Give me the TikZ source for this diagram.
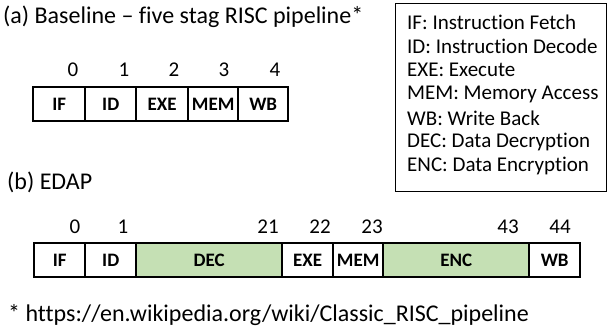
\documentclass[tikz,border=0pt]{standalone}
\usepackage{fontspec}
\setmainfont{Carlito}[Ligatures=NoCommon]
\definecolor{stagegreen}{HTML}{C5E0B4}
\begin{document}
\begin{tikzpicture}[x=1pt,y=-1pt,
  cell/.style={draw, line width=2.4pt, minimum height=34pt, inner sep=0pt, anchor=north west, font=\bfseries\fontsize{19}{19}\selectfont},
  gcell/.style={cell, fill=stagegreen},
  num/.style={inner sep=0pt, font=\fontsize{21}{21}\selectfont},
  big/.style={inner sep=0pt, anchor=west, font=\fontsize{24}{24}\selectfont},
  leg/.style={inner sep=0pt, anchor=west, font=\fontsize{21}{21}\selectfont},
]
\useasboundingbox (0,0) rectangle (607,331);
% title (a)
\node[big] (ta) at (3,17) {(a) Baseline -- five stag RISC pipeline*};
% top pipeline
\node[cell, minimum width=52pt] (aIF)  at (32,86)  {IF};
\node[cell, minimum width=51pt] (aID)  at (84,86)  {ID};
\node[cell, minimum width=52pt] (aEXE) at (135,86) {EXE};
\node[cell, minimum width=50pt] (aMEM) at (187,86) {MEM};
\node[cell, minimum width=50pt] (aWB)  at (237,86) {WB};
\node[num] (n0) at (73,70) {0};
\node[num] (n1) at (124,70) {1};
\node[num] (n2) at (174,70) {2};
\node[num] (n3) at (224,70) {3};
\node[num] (n4) at (275,70) {4};
% legend
\node[draw, line width=1.2pt, minimum width=211pt, minimum height=188pt, anchor=north west, inner sep=0pt] (legend) at (395,3) {};
\node[leg] (l1) at (407,22)  {IF: Instruction Fetch};
\node[leg] (l2) at (407,46)  {ID: Instruction Decode};
\node[leg] (l3) at (407,70)  {EXE: Execute};
\node[leg] (l4) at (407,94)  {MEM: Memory Access};
\node[leg] (l5) at (407,118) {WB: Write Back};
\node[leg] (l6) at (407,142) {DEC: Data Decryption};
\node[leg] (l7) at (407,166) {ENC: Data Encryption};
% title (b)
\node[big] (tb) at (7,182) {(b) EDAP};
% bottom pipeline
\node[cell, minimum width=51pt]  (bIF)  at (33,242)  {IF};
\node[cell, minimum width=51pt]  (bID)  at (84,242)  {ID};
\node[gcell, minimum width=146pt] (bDEC) at (135,242) {DEC};
\node[cell, minimum width=51pt]  (bEXE) at (281,242) {EXE};
\node[cell, minimum width=50pt]  (bMEM) at (332,242) {MEM};
\node[gcell, minimum width=146pt] (bENC) at (382,242) {ENC};
\node[cell, minimum width=51pt]  (bWB)  at (528,242) {WB};
\node[num] (m0)  at (75,227)  {0};
\node[num] (m1)  at (123,227) {1};
\node[num] (m21) at (268,227) {21};
\node[num] (m22) at (320,227) {22};
\node[num] (m23) at (372,227) {23};
\node[num] (m43) at (508,227) {43};
\node[num] (m44) at (560,227) {44};
% footnote
\node[big] (fn) at (8,315) {* https://en.wikipedia.org/wiki/Classic\_RISC\_pipeline};
\end{tikzpicture}
\end{document}
